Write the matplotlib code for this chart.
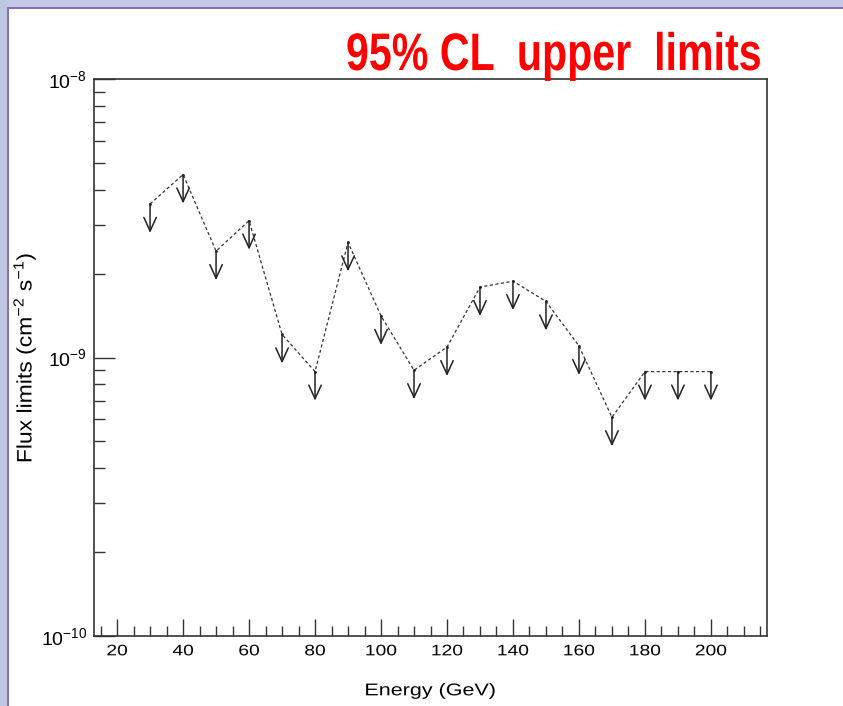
import matplotlib
matplotlib.use("Agg")
import matplotlib.pyplot as plt
from matplotlib.patches import Rectangle
from matplotlib.patheffects import AbstractPathEffect
from matplotlib.transforms import Affine2D
from matplotlib.ticker import MultipleLocator, LogLocator, FixedFormatter, FixedLocator, NullFormatter

# upper limits
energy_gev = [30, 40, 50, 60, 70, 80, 90, 100, 110, 120, 130, 140, 150, 160, 170, 180, 190, 200]
flux_limit = [3.56e-9, 4.54e-9, 2.41e-9, 3.10e-9, 1.21e-9, 0.89e-9, 2.59e-9, 1.41e-9, 0.90e-9,
              1.09e-9, 1.79e-9, 1.88e-9, 1.59e-9, 1.10e-9, 0.61e-9, 0.89e-9, 0.89e-9, 0.89e-9]
y_ticks = [1e-10, 1e-9, 1e-8]
y_tick_labels = [r"$\mathregular{10^{-10}}$", r"$\mathregular{10^{-9}}$", r"$\mathregular{10^{-8}}$"]
x_ticks = [20, 40, 60, 80, 100, 120, 140, 160, 180, 200]


class Stretch(AbstractPathEffect):
    """Scale glyph outlines along the text direction around an anchor (0 left .. 1 right)."""

    def __init__(self, sx=1.0, sy=1.0, anchor=0.5):
        super().__init__()
        self.sx, self.sy, self.anchor = sx, sy, anchor

    def draw_path(self, renderer, gc, tpath, affine, rgbFace=None):
        ext = tpath.get_extents()
        cx = ext.x0 + self.anchor * ext.width
        pre = Affine2D().translate(-cx, 0).scale(self.sx, self.sy).translate(cx, 0)
        renderer.draw_path(gc, tpath, pre + affine, rgbFace)


plt.rcParams["font.family"] = ["Liberation Sans", "DejaVu Sans"]
plt.rcParams["mathtext.fontset"] = "custom"
plt.rcParams["mathtext.rm"] = "Liberation Sans"

W, H = 843, 706
fig = plt.figure(figsize=(W / 100, H / 100), dpi=100)
fig.patch.set_facecolor("white")

# slide frame: lavender strips with a purple edge
fig.patches.append(Rectangle((0, 1 - 7 / H), 1, 7 / H, transform=fig.transFigure,
                             facecolor="#c4c7e7", edgecolor="none", zorder=0))
fig.patches.append(Rectangle((0, 1 - 9 / H), 1, 2.5 / H, transform=fig.transFigure,
                             facecolor="#8a6db2", edgecolor="none", zorder=0))
fig.patches.append(Rectangle((0, 0), 7 / W, 1, transform=fig.transFigure,
                             facecolor="#bfc6e2", edgecolor="none", zorder=0))
fig.patches.append(Rectangle((7 / W, 0), 2.5 / W, 1 - 7 / H, transform=fig.transFigure,
                             facecolor="#8a6db2", edgecolor="none", zorder=0))

ax = fig.add_axes([94 / W, 1 - 636 / H, (767 - 94) / W, (636 - 79) / H])
ax.set_yscale("log")
ax.set_xlim(13, 217)
ax.set_ylim(1e-10, 1e-8)

ax.plot(energy_gev, flux_limit, linestyle=(0, (2.5, 2)), color="#333333", lw=0.9,
        marker="o", markersize=2, markerfacecolor="#222222", markeredgewidth=0)

drop = 10 ** (-0.104)
for e, f in zip(energy_gev, flux_limit):
    ax.annotate("", xy=(e, f * drop), xytext=(e, f),
                arrowprops=dict(arrowstyle="->,head_length=0.7,head_width=0.32",
                                color="#222222", lw=1.1, shrinkA=0, shrinkB=0,
                                mutation_scale=14))

for side in ["top", "right", "bottom", "left"]:
    ax.spines[side].set_linewidth(1.2)
    ax.spines[side].set_color("#333333")

ax.xaxis.set_major_locator(FixedLocator(x_ticks))
ax.xaxis.set_minor_locator(MultipleLocator(5))
ax.yaxis.set_major_locator(FixedLocator(y_ticks))
ax.yaxis.set_major_formatter(FixedFormatter(y_tick_labels))
ax.yaxis.set_minor_locator(LogLocator(base=10, subs=range(2, 10)))
ax.yaxis.set_minor_formatter(NullFormatter())

ax.tick_params(axis="both", which="both", direction="in", top=False, right=False,
               color="#333333")
ax.tick_params(axis="x", which="major", length=12, width=1, pad=6, labelsize=11)
ax.tick_params(axis="x", which="minor", length=7, width=1)
ax.tick_params(axis="y", which="major", length=15, width=1, pad=5, labelsize=14)
ax.tick_params(axis="y", which="minor", length=8, width=1)

ax.set_xlabel("Energy (GeV)", fontsize=12.3, labelpad=18,
              path_effects=[Stretch(sx=1.26, anchor=0.5)])
ax.set_ylabel(r"Flux limits (cm$^{\mathregular{-2}}$ s$^{\mathregular{-1}}$)", fontsize=15,
              labelpad=2, path_effects=[Stretch(sx=1.1, anchor=0.5)])

fig.text(761 / W, 1 - 70 / H, "95% CL  upper  limits", color="#ff0000", fontsize=38,
         fontweight="bold", ha="right", va="baseline",
         path_effects=[Stretch(sx=0.78, anchor=1.0)])

fig.canvas.draw()
for lbl in ax.get_xticklabels():
    lbl.set_path_effects([Stretch(sx=1.26, anchor=0.5)])

fig.savefig("out.png", dpi=100)
